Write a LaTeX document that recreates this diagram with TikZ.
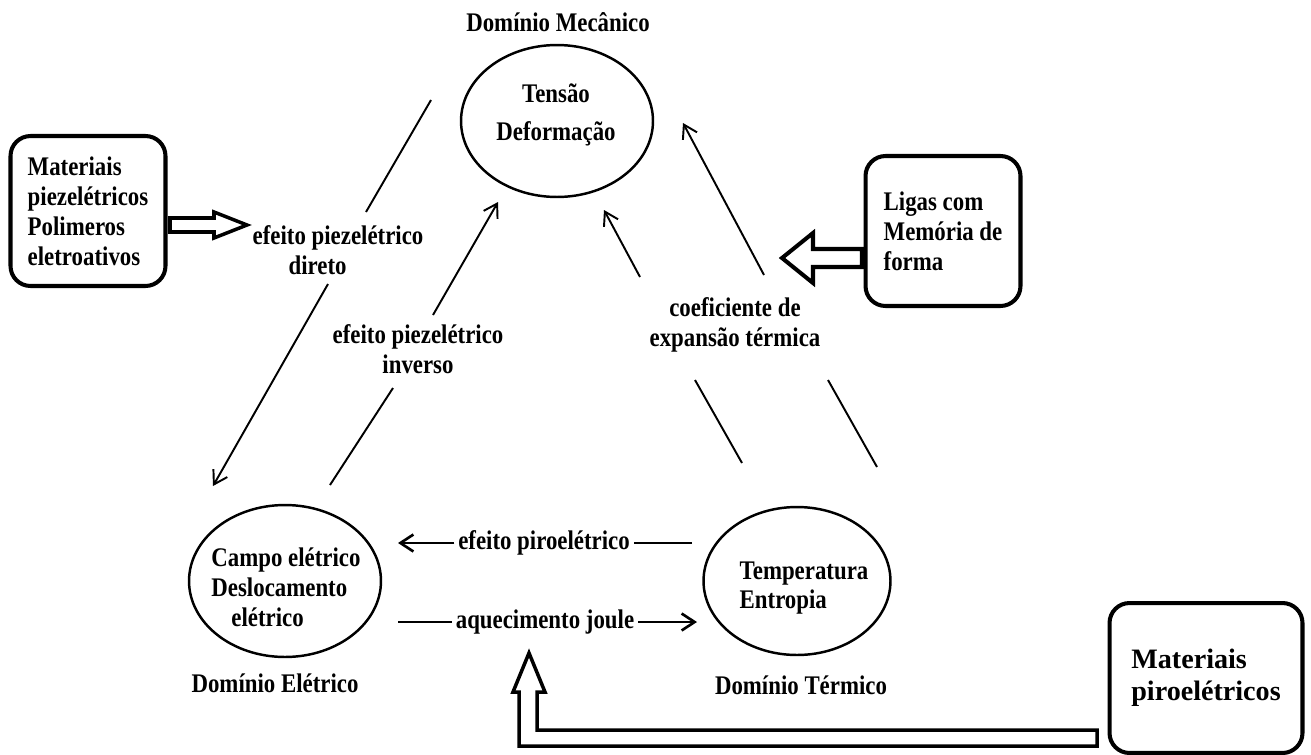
\documentclass[tikz,border=0pt]{standalone}
\usepackage{fontspec}
\setmainfont{Liberation Serif}[FakeStretch=0.85]
\newfontfamily\pirofont{Liberation Serif}
\usetikzlibrary{shapes.geometric,arrows.meta}

\begin{document}
\begin{tikzpicture}[x=0.02cm,y=-0.02cm,
    font=\bfseries\fontsize{15.3}{17}\selectfont,
    every node/.style={inner sep=2pt},
    dombox/.style={ellipse,draw,line width=1.4pt,minimum width=3.84cm,minimum height=3.04cm},
    material/.style={draw,line width=2.3pt,rounded corners=0.4cm,minimum width=3.1cm,minimum height=3cm,align=left},
    link/.style={line width=1.1pt,-{Straight Barb[length=2.6mm,width=3.2mm]}},
    plain/.style={line width=1.1pt},
    flat/.style={line width=1.5pt},
    hollow/.style={line width=2pt,line join=miter}]
    \useasboundingbox (0,0) rectangle (1311,754);

    \node[dombox] (mech) at (557,121) {};
    \node[dombox] (elec) at (285,581) {};
    \node[dombox,minimum width=3.74cm,minimum height=2.96cm] (therm) at (797,581) {};
    \node[align=center] (mechTxt) at (556,115) {Tensão\\[5pt]Deformação};
    \node[align=left] (elecTxt) at (286,587) {Campo elétrico\\Deslocamento\\\hspace*{0.4cm}elétrico};
    \node[align=left] (thermTxt) at (804,588) {Temperatura\\Entropia};
    \node (mechLbl) at (558,22) {Domínio Mecânico};
    \node (elecLbl) at (275,683) {Domínio Elétrico};
    \node (thermLbl) at (801,685) {Domínio Térmico};

    \node[material] (piezo) at (88,211) {Materiais\\piezelétricos\\Polimeros\\eletroativos};
    \node[material] (ligas) at (943,231) {Ligas com\\Memória de\\forma};
    \node[material,minimum width=3.86cm,font=\pirofont\bfseries\fontsize{16}{18}\selectfont] (piro) at (1206,678) {Materiais\\piroelétricos};

    \node[align=left] (direct) at (338,250) {efeito piezelétrico\\\hspace*{0.72cm}direto};
    \node[align=center] (inverse) at (418,349) {efeito piezelétrico\\inverso};
    \node[align=center] (expan) at (735,325) {coeficiente de\\expansão térmica};
    \node (pyro) at (544,543) {efeito piroelétrico};
    \node (joule) at (545,622) {aquecimento joule};

    \coordinate (dirA) at (431,100);
    \coordinate (dirB) at (366,212);
    \coordinate (dirC) at (328,284);
    \coordinate (dirD) at (213,486);
    \coordinate (invA) at (330,485);
    \coordinate (invB) at (393,388);
    \coordinate (invC) at (433,315);
    \coordinate (invD) at (498,202);
    \coordinate (inA) at (742,463);
    \coordinate (inB) at (695,380);
    \coordinate (inC) at (640,277);
    \coordinate (inD) at (604,210);
    \coordinate (outA) at (877,467);
    \coordinate (outB) at (828,380);
    \coordinate (outC) at (764,275);
    \coordinate (outD) at (683,123);
    \coordinate (pyroA) at (692,543);
    \coordinate (pyroB) at (398,543);
    \coordinate (jouleA) at (398,622);
    \coordinate (jouleB) at (697,622);

    \draw[plain] (dirA) -- (dirB);
    \draw[link] (dirC) -- (dirD);
    \draw[plain] (invA) -- (invB);
    \draw[link] (invC) -- (invD);
    \draw[plain] (inA) -- (inB);
    \draw[link] (inC) -- (inD);
    \draw[plain] (outA) -- (outB);
    \draw[link] (outC) -- (outD);
    \draw[flat] (pyroA) -- (pyro.east);
    \draw[flat,-{Straight Barb[length=2.6mm,width=3.4mm]}] (pyro.west) -- (pyroB);
    \draw[flat] (jouleA) -- (joule.west);
    \draw[flat,-{Straight Barb[length=2.6mm,width=3.4mm]}] (joule.east) -- (jouleB);

    \coordinate (pzTail) at (170,225);
    \coordinate (lgTail) at (862,258);
    \coordinate (prTail) at (1097,730);
    \draw[hollow] (pzTail) ++(0,-7) -- ++(44,0) -- ++(0,-6) -- ++(33,13) -- ++(-33,13) -- ++(0,-6) -- ++(-44,0) -- cycle;
    \draw[hollow,line width=2.3pt] (lgTail) ++(0,-9) -- ++(-49,0) -- ++(0,-16) -- ++(-31,25) -- ++(31,25) -- ++(0,-16) -- ++(49,0) -- cycle;
    \draw[hollow] (prTail) -- (537,730) -- (537,692) -- (545,692) -- (529,653) -- (513,692) -- (519,692) -- (519,746) -- (1097,746) -- cycle;
\end{tikzpicture}
\end{document}
